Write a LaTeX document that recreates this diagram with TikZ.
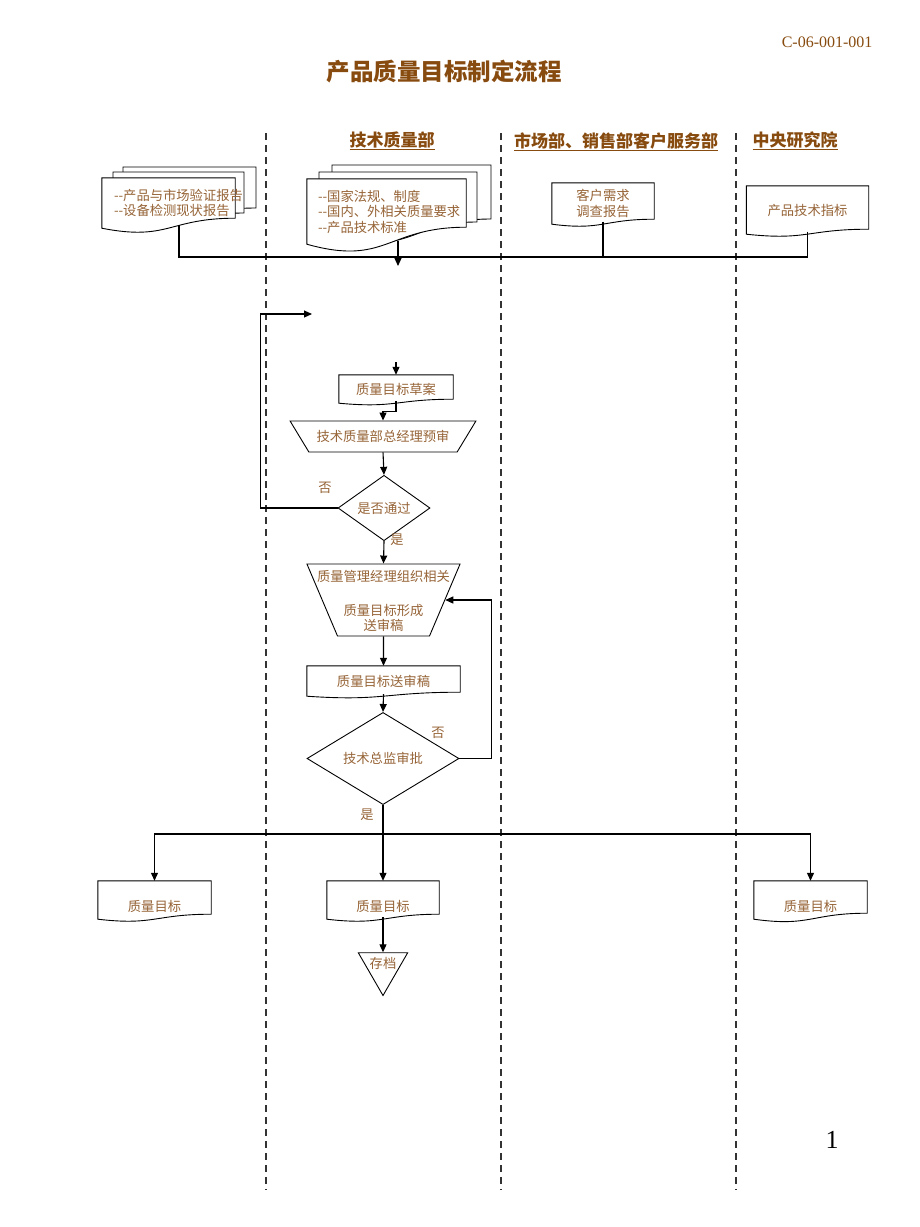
\documentclass[tikz,border=0pt]{standalone}
\usepackage{fontspec}
\setmainfont{Noto Sans CJK SC}
\newfontfamily\latinserif{Liberation Serif}
\usepackage{tikz}
\usetikzlibrary{arrows.meta,shapes.geometric,backgrounds}

\definecolor{headbrown}{RGB}{135,75,15}
\definecolor{textbrown}{RGB}{150,100,55}

% outline of a document node (#2 = rise of the wavy bottom)
\newcommand\docframe[2]{%
  \begin{pgfonlayer}{background}
    \filldraw[docline] (#1.north west) -- (#1.north east) -- ([yshift=#2pt]#1.south east)
      .. controls ([yshift=#2pt]#1.south) and ([yshift=-1.31*#2pt]#1.south) .. (#1.south west) -- cycle;
  \end{pgfonlayer}}
% stacked sheet behind a document: x1, top, x2, right bottom, rise
\newcommand\backdoc[5]{%
  \begin{pgfonlayer}{background}
    \filldraw[docline] (#1,#2) -- (#3,#2) -- (#3,#4)
      .. controls ({(#1+#3)/2},#4) and ({(#1+#3)/2},{#4+2.31*#5}) .. (#1,{#4+#5}) -- cycle;
  \end{pgfonlayer}}

\begin{document}
\begin{tikzpicture}[
  x=1pt, y=-1pt,
  every node/.style={font=\fontsize{13.3}{15.5}\selectfont, text=textbrown},
  docline/.style={draw=black, fill=white, line width=0.9pt},
  docbox/.style={inner sep=0pt, align=left},
  lowtext/.style={text height=23pt, text depth=0pt},
  flowline/.style={line width=1.1pt, black},
  arr/.style={flowline, -{Triangle[length=8pt,width=7pt]}},
  lane/.style={line width=1.1pt, dash pattern=on 7pt off 5pt, black!80},
  review/.style={draw, trapezium, shape border rotate=180, trapezium stretches=true,
    line width=0.9pt, inner sep=1pt},
  decide/.style={draw, diamond, line width=0.9pt, inner sep=0pt},
  head/.style={font=\fontsize{17}{20}\selectfont\bfseries, text=headbrown},
]
\useasboundingbox (0,0) rectangle (920,1227);

%%% Page heading %%%
\node[font=\latinserif\fontsize{16}{18}\selectfont, text=headbrown, anchor=east] (code) at (876,42) {C-06-001-001};
\node[font=\fontsize{23.5}{28}\selectfont\bfseries, text=headbrown] (title) at (444,72) {产品质量目标制定流程};

%%% Lanes %%%
\foreach \x in {266,501,736}
  \draw[lane] (\x,133) -- (\x,1190);
\node[head] (lanetech) at (392,141) {\underline{技术质量部}};
\node[head] (lanemkt) at (616,142) {\underline{市场部、销售部客户服务部}};
\node[head] (lanecri) at (795,141) {\underline{中央研究院}};

%%% Inputs %%%
\backdoc{123}{167}{256}{208}{10}
\backdoc{113}{172}{244}{213}{10}
\node[docbox, text width=109pt, minimum width=133pt, minimum height=50pt] (rep) at (168.5,203)
  {\mbox{-{}-产品与市场验证报告}\\\mbox{-{}-设备检测现状报告}};
\docframe{rep}{10}

\backdoc{332}{165}{491}{219}{17}
\backdoc{319}{172}{477}{222}{17}
\node[docbox, text width=137pt, minimum width=159pt, minimum height=65pt] (std) at (386.5,211.5)
  {\mbox{-{}-国家法规、制度}\\\mbox{-{}-国内、外相关质量要求}\\\mbox{-{}-产品技术标准}};
\docframe{std}{17}

\node[docbox, align=center, minimum width=102pt, minimum height=41pt] (cust) at (603,203.5)
  {客户需求\\调查报告};
\docframe{cust}{5}

\node[docbox, minimum width=122pt, minimum height=48pt] (tech) at (807.5,210) {产品技术指标};
\docframe{tech}{5}

% gather inputs
\coordinate (merge) at (398,257);
\coordinate (mergeend) at (398,266);
\draw[flowline] ([xshift=10.5pt,yshift=3pt]rep.south) |- (merge);
\draw[flowline] ([yshift=2.5pt]cust.south) |- (merge);
\draw[flowline] ([yshift=2.5pt]tech.south) |- (merge);
\draw[arr] ([yshift=3pt]std.south -| merge) -- (mergeend);

%%% Draft and first review %%%
\coordinate (loopend) at (312,314);
\coordinate (draftin) at (396,362);
\node[docbox, minimum width=114pt, minimum height=28pt] (draft) at (396,389) {质量目标草案};
\docframe{draft}{4}
\draw[arr] (draftin) -- (draft.north);

\node[review, minimum width=186pt, minimum height=31pt, trapezium angle=40] (pre) at (383,436.5)
  {技术质量部总经理预审};
\draw[arr] ([yshift=2pt]draft.south) -- ++(0,10) -| (pre.north);

\node[decide, minimum width=92pt, minimum height=50pt] (pass) at (384,508) {是否通过};
\draw[arr] (pre.south) -- (pass.north);
\draw[arr] (pass.west) -- ++(-77,0) |- (loopend);
\node (no1) at (325,488) {否};

%%% Draft for approval %%%
\node[draw, trapezium, shape border rotate=180, trapezium angle=67, line width=0.9pt, inner sep=0pt,
  text width=92pt, text height=72pt, text depth=0pt] (org) at (383.5,600) {};
\node[align=center, inner sep=0pt] (orgtxt) at (383.5,601)
  {质量管理经理组织相关\\[18pt]质量目标形成\\送审稿};
\draw[arr] (pass.south) -- (org.north);
\node (yes1) at (397,540) {是};

\node[docbox, minimum width=153pt, minimum height=30pt] (goal) at (383.5,681) {质量目标送审稿};
\docframe{goal}{4}
\draw[arr] (org.south) -- (goal.north);

\node[decide, minimum width=152pt, minimum height=59pt] (chief) at (383,758.5) {技术总监审批};
\draw[arr] ([yshift=2pt]goal.south) -- (chief.north);
\draw[arr] (chief.east) -- ++(32,0) |- (org.east);
\node (no2) at (438,733) {否};

%%% Release %%%
\coordinate (split) at (383,834);
\draw[flowline] (chief.south) -- (split);
\node (yes2) at (367,815) {是};

\node[docbox, lowtext, minimum width=113pt, minimum height=38pt] (qleft) at (154.5,900) {质量目标};
\docframe{qleft}{5}
\node[docbox, lowtext, minimum width=112pt, minimum height=38pt] (qmid) at (383,900) {质量目标};
\docframe{qmid}{5}
\node[docbox, lowtext, minimum width=113pt, minimum height=38pt] (qright) at (810.5,900) {质量目标};
\docframe{qright}{6}
\draw[arr] (split) -| (qleft.north);
\draw[arr] (split) -- (qmid.north);
\draw[arr] (split) -| (qright.north);

\node[draw, regular polygon, regular polygon sides=3, shape border rotate=180, minimum size=57pt,
  inner sep=0pt, line width=0.9pt] (archive) at (383,967) {};
\node (archtxt) at (383,963) {存档};
\draw[arr] ([yshift=2pt]qmid.south) -- (archive.north);

\node[font=\latinserif\fontsize{26}{28}\selectfont, text=black] (page) at (832,1140) {1};
\end{tikzpicture}
\end{document}
